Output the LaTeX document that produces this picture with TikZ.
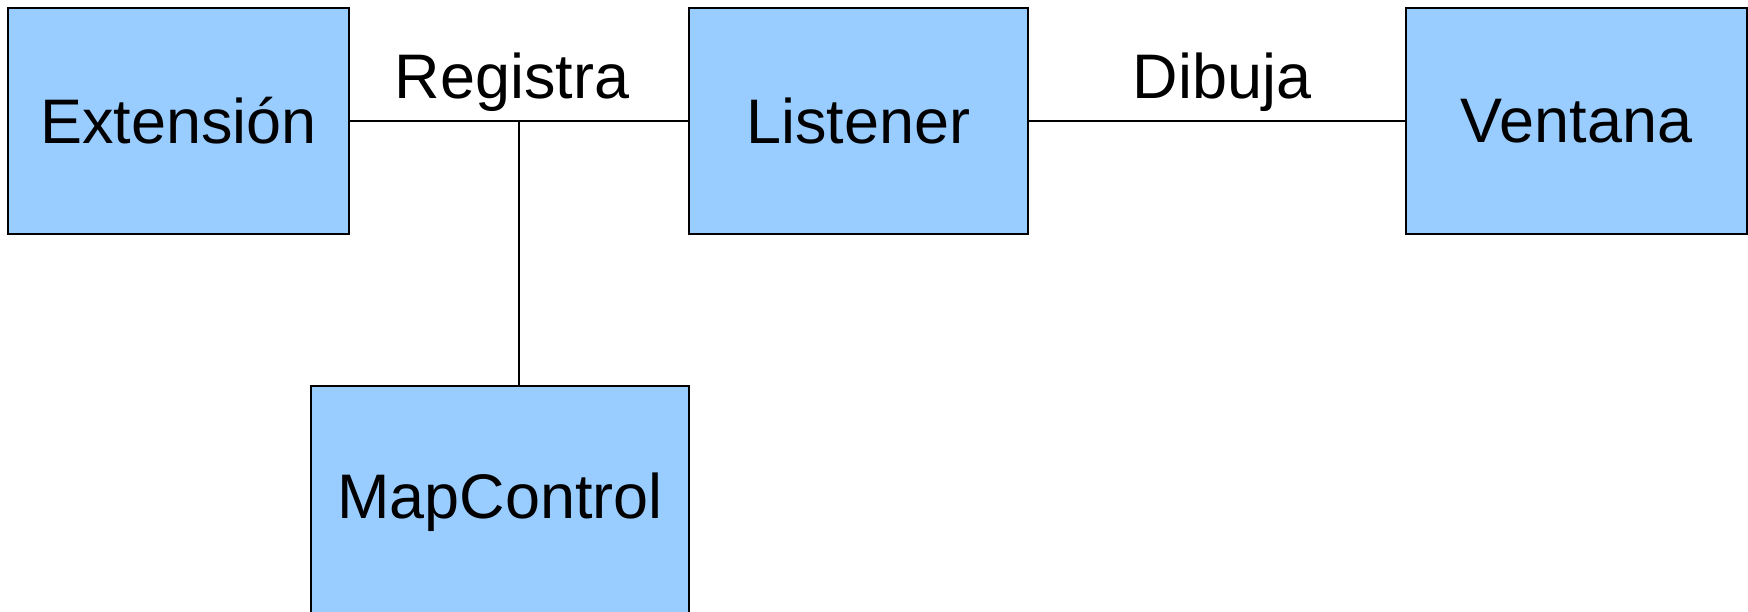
\documentclass[tikz,border=0pt]{standalone}
\usepackage{fontspec}
\setmainfont{Liberation Sans}
\tikzset{
  caja/.style={draw=black, line width=0.6pt, fill=boxblue, minimum height=2.26cm, inner sep=0pt, font=\fontsize{17.9}{21}\selectfont},
  rotulo/.style={font=\fontsize{17.9}{21}\selectfont, inner sep=2.5pt}
}
\definecolor{boxblue}{HTML}{99CCFF}
\begin{document}
\begin{tikzpicture}[x=0.01cm,y=-0.01cm]
\useasboundingbox (0,0) rectangle (1748,612);
\node[caja, minimum width=3.41cm] (ext) at (178.5,121) {Extensión};
\node[caja, minimum width=3.39cm] (lis) at (858.5,121) {Listener};
\node[caja, minimum width=3.41cm] (ven) at (1576.5,121) {Ventana};
\node[caja, minimum width=3.78cm, minimum height=2.32cm, anchor=north] (map) at (500,385) {MapControl};
\draw[line width=0.5pt] (ext.east) -- coordinate (reg) node[rotulo, above, xshift=-0.07cm]{Registra} (lis.west);
\draw[line width=0.5pt] (lis.east) -- node[rotulo, above, xshift=0.05cm]{Dibuja} (ven.west);
\draw[line width=0.5pt] (map.north -| reg) -- (reg);
\end{tikzpicture}
\end{document}
